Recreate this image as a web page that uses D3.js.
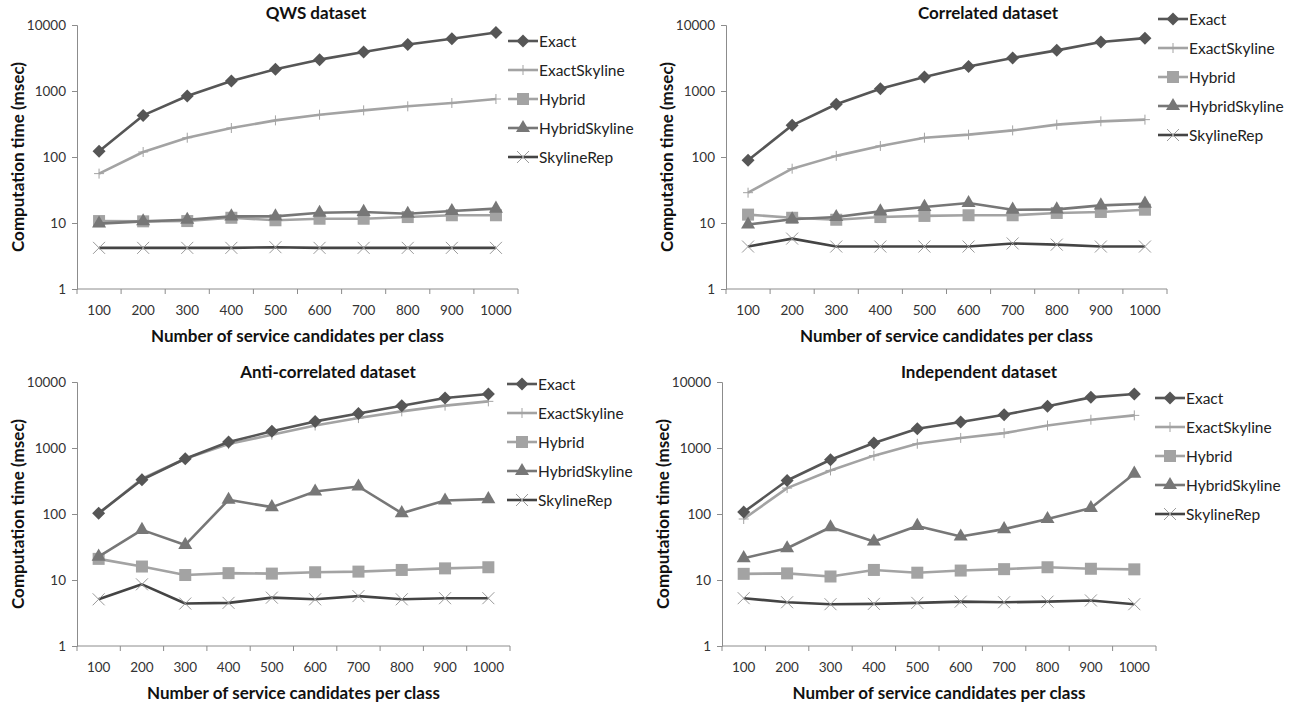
<!DOCTYPE html>
<html><head><meta charset="utf-8">
<script src="https://cdn.jsdelivr.net/npm/d3@7"></script>
<style>
body{margin:0;background:#fff;}
svg{display:block;}
text{font-family:Lato,"Open Sans",sans-serif;}
</style></head>
<body><svg id="c" width="1294" height="706"></svg>
<script>
const categories = [100,200,300,400,500,600,700,800,900,1000];
const seriesNames = ["Exact","ExactSkyline","Hybrid","HybridSkyline","SkylineRep"];
const yTicks = [1,10,100,1000,10000];

const qwsExact        = [122,427,840,1420,2130,2985,3900,5050,6200,7700];
const qwsExactSkyline = [56,119,196,275,359,437,509,586,658,756];
const qwsHybrid       = [10.7,10.6,10.7,12.0,11.0,11.6,11.6,12.3,13.1,13.1];
const qwsHybridSky    = [9.8,10.6,11.2,12.6,12.6,14.3,14.7,13.8,15.2,16.5];
const qwsSkylineRep   = [4.2,4.2,4.2,4.2,4.3,4.2,4.2,4.2,4.2,4.2];

const corExact        = [89,302,630,1085,1630,2350,3170,4130,5530,6320];
const corExactSkyline = [28.8,66.5,104,147,196,218,253,309,347,368];
const corHybrid       = [13.4,12.0,11.2,12.3,12.8,13.1,13.1,14.2,14.7,15.9];
const corHybridSky    = [9.5,11.4,12.3,15.0,17.5,20.1,15.9,16.1,18.5,19.6];
const corSkylineRep   = [4.4,5.8,4.4,4.4,4.4,4.4,4.9,4.7,4.4,4.4];

const antExact        = [103,330,687,1230,1790,2530,3330,4380,5720,6580];
const antExactSkyline = [101,342,687,1146,1590,2190,2840,3590,4380,5090];
const antHybrid       = [20.9,16.0,11.9,12.7,12.5,13.1,13.4,14.2,15.0,15.6];
const antHybridSky    = [22.6,57.5,34,164,127,219,261,103,160,168];
const antSkylineRep   = [5.1,8.6,4.4,4.5,5.4,5.1,5.7,5.1,5.3,5.3];

const indExact        = [107,322,663,1188,1960,2470,3180,4290,5850,6580];
const indExactSkyline = [84,247,457,766,1160,1420,1680,2190,2680,3120];
const indHybrid       = [12.4,12.6,11.3,14.2,12.9,13.9,14.6,15.6,14.8,14.5];
const indHybridSky    = [21.4,30.3,63,38.3,66,45.6,59,84,123,408];
const indSkylineRep   = [5.3,4.6,4.3,4.35,4.5,4.7,4.6,4.7,4.9,4.3];

const titles = ["QWS dataset","Correlated dataset","Anti-correlated dataset","Independent dataset"];
const panelData = [
  [qwsExact,qwsExactSkyline,qwsHybrid,qwsHybridSky,qwsSkylineRep],
  [corExact,corExactSkyline,corHybrid,corHybridSky,corSkylineRep],
  [antExact,antExactSkyline,antHybrid,antHybridSky,antSkylineRep],
  [indExact,indExactSkyline,indHybrid,indHybridSky,indSkylineRep]
];

// layout
const layout = [
  {x0:77, x1:518, yTop:25, yBot:289, titleX:316, titleY:19, legX:508, legY:41, xlabY:311, xtitleY:342, ytitleX:24},
  {x0:726,x1:1167,yTop:25, yBot:289, titleX:988, titleY:19, legX:1158,legY:19, xlabY:311, xtitleY:342, ytitleX:673},
  {x0:77, x1:510, yTop:382,yBot:646, titleX:328, titleY:378,legX:507, legY:384,xlabY:668, xtitleY:699, ytitleX:24},
  {x0:722,x1:1156,yTop:382,yBot:646, titleX:979, titleY:378,legX:1155,legY:398,xlabY:668, xtitleY:699, ytitleX:669}
];

const styles = [
  {stroke:"#565656", marker:"diamond", fill:"#565656"},
  {stroke:"#a3a3a3", marker:"plus", fill:"#a3a3a3"},
  {stroke:"#a3a3a3", marker:"square", fill:"#a3a3a3"},
  {stroke:"#777777", marker:"triangle", fill:"#777777"},
  {stroke:"#444444", marker:"cross", fill:"#9a9a9a"}
];

const svg = d3.select("#c");

function drawMarker(g, type, fill, x, y){
  if(type==="diamond"){
    g.append("path").attr("d",`M${x},${y-6.5}L${x+6.5},${y}L${x},${y+6.5}L${x-6.5},${y}Z`).attr("fill",fill);
  } else if(type==="square"){
    g.append("rect").attr("x",x-6).attr("y",y-6).attr("width",12).attr("height",12).attr("fill",fill);
  } else if(type==="triangle"){
    g.append("path").attr("d",d3.symbol(d3.symbolTriangle,85)()).attr("transform",`translate(${x},${y})`).attr("fill",fill);
  } else if(type==="plus"){
    g.append("path").attr("d",`M${x-5},${y}H${x+5}M${x},${y-5}V${y+5}`).attr("stroke",fill).attr("stroke-width",1);
  } else if(type==="cross"){
    g.append("path").attr("d",`M${x-6},${y-6}L${x+6},${y+6}M${x-6},${y+6}L${x+6},${y-6}`).attr("stroke",fill).attr("stroke-width",1);
  }
}

layout.forEach((L,pi)=>{
  const g = svg.append("g");
  const x = d3.scaleBand().domain(categories).range([L.x0,L.x1]);
  const y = d3.scaleLog().domain([1,10000]).range([L.yBot,L.yTop]);

  // y axis
  const ya = g.append("g").attr("transform",`translate(${L.x0},0)`)
    .call(d3.axisLeft(y).tickValues(yTicks).tickFormat(d3.format("d")).tickSizeOuter(0).tickSize(5).tickPadding(6));
  ya.select(".domain").attr("stroke","#8c8c8c");
  ya.selectAll(".tick line").attr("stroke","#8c8c8c");
  ya.selectAll(".tick text").attr("fill","#333").style("font-size","13.5px").style("font-family","Lato, sans-serif");

  // x axis
  g.append("line").attr("x1",L.x0).attr("x2",L.x1).attr("y1",L.yBot).attr("y2",L.yBot).attr("stroke","#8c8c8c");
  const bounds = categories.map(c=>x(c)).concat([L.x1]);
  g.selectAll(".xt").data(bounds).enter().append("line")
    .attr("x1",d=>d).attr("x2",d=>d).attr("y1",L.yBot).attr("y2",L.yBot+5).attr("stroke","#8c8c8c");
  g.selectAll(".xl").data(categories).enter().append("text")
    .attr("x",d=>x(d)+x.bandwidth()/2).attr("y",L.xlabY+4).attr("text-anchor","middle")
    .attr("fill","#333").style("font-size","13.5px").text(d=>d);

  // titles
  g.append("text").attr("x",L.titleX).attr("y",L.titleY).attr("text-anchor","middle")
    .style("font-size","17px").style("font-weight","bold").attr("fill","#111").text(titles[pi]);
  g.append("text").attr("x",(L.x0+L.x1)/2).attr("y",L.xtitleY).attr("text-anchor","middle")
    .style("font-size","17px").style("font-weight","bold").attr("fill","#111").text("Number of service candidates per class");
  g.append("text").attr("transform",`translate(${L.ytitleX},${(L.yTop+L.yBot)/2}) rotate(-90)`)
    .attr("text-anchor","middle").style("font-size","17px").style("font-weight","bold").attr("fill","#111")
    .text("Computation time (msec)");

  // series
  const line = d3.line().x((d,i)=>x(categories[i])+x.bandwidth()/2).y(d=>y(d));
  const order = [4,2,3,1,0];
  order.forEach(si=>{
    const vals = panelData[pi][si], st = styles[si];
    g.append("path").attr("d",line(vals)).attr("fill","none").attr("stroke",st.stroke)
      .attr("stroke-width",2.6).attr("stroke-linejoin","round");
    const mg = g.append("g");
    vals.forEach((v,i)=>drawMarker(mg, st.marker, st.fill, x(categories[i])+x.bandwidth()/2, y(v)));
  });

  // legend
  seriesNames.forEach((name,si)=>{
    const st = styles[si];
    const ly = L.legY + si*29;
    g.append("line").attr("x1",L.legX).attr("x2",L.legX+30).attr("y1",ly).attr("y2",ly)
      .attr("stroke",st.stroke).attr("stroke-width",2.6);
    drawMarker(g, st.marker, st.fill, L.legX+15, ly);
    g.append("text").attr("x",L.legX+31).attr("y",ly+5.5).attr("fill","#222")
      .style("font-size","15.5px").text(name);
  });
});
</script></body></html>
